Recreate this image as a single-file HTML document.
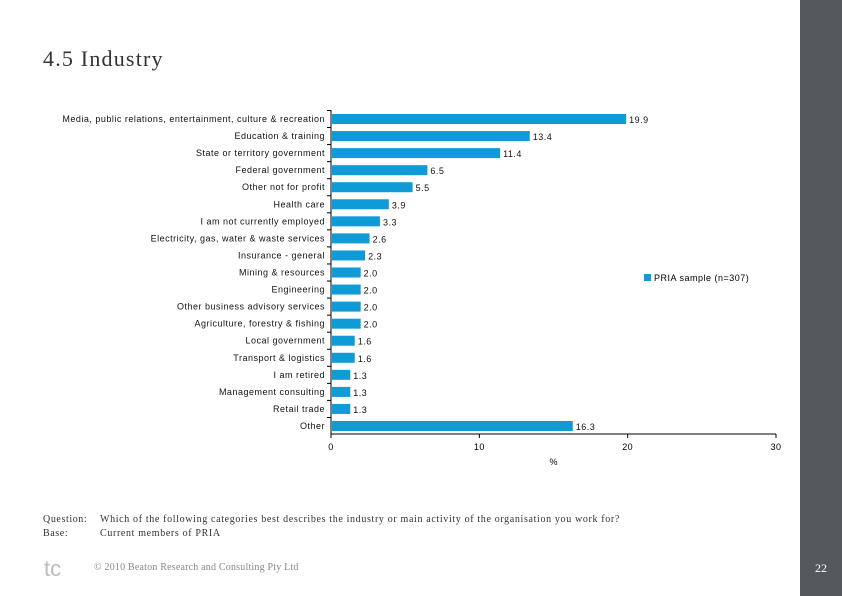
<!DOCTYPE html>
<html><head><meta charset="utf-8"><style>
body{margin:0;width:842px;height:596px;background:#fff;position:relative;overflow:hidden;font-family:"Liberation Sans",sans-serif}
.ser{font-family:"Liberation Serif",serif}
</style></head><body>
<div style="position:absolute;left:800px;top:0;width:42px;height:596px;background:#56595c"></div>
<div class="ser" style="position:absolute;left:800px;width:42px;top:561px;text-align:center;color:#fff;font-size:12px">22</div>
<div class="ser" style="position:absolute;left:43px;top:46px;font-size:22px;letter-spacing:1.2px;color:#333">4.5 Industry</div>
<svg id="chart" width="842" height="596" style="position:absolute;left:0;top:0"></svg>
<div class="ser" style="position:absolute;left:43px;top:514px;font-size:10px;letter-spacing:0.6px;color:#333">Question:</div>
<div class="ser" style="position:absolute;left:100px;top:514px;font-size:10px;letter-spacing:0.65px;color:#333">Which of the following categories best describes the industry or main activity of the organisation you work for?</div>
<div class="ser" style="position:absolute;left:43px;top:528px;font-size:10px;letter-spacing:0.6px;color:#333">Base:</div>
<div class="ser" style="position:absolute;left:100px;top:528px;font-size:10px;letter-spacing:0.65px;color:#333">Current members of PRIA</div>
<div style="position:absolute;left:44px;top:556px;width:26px;height:26px;color:#bbb;font-size:22px;line-height:26px">tc</div>
<div class="ser" style="position:absolute;left:94px;top:562px;font-size:10px;letter-spacing:0.2px;color:#888">© 2010 Beaton Research and Consulting Pty Ltd</div>
<script>
const categories=["Media, public relations, entertainment, culture & recreation","Education & training","State or territory government","Federal government","Other not for profit","Health care","I am not currently employed","Electricity, gas, water & waste services","Insurance - general","Mining & resources","Engineering","Other business advisory services","Agriculture, forestry & fishing","Local government","Transport & logistics","I am retired","Management consulting","Retail trade","Other"];
const values=[19.9,13.4,11.4,6.5,5.5,3.9,3.3,2.6,2.3,2.0,2.0,2.0,2.0,1.6,1.6,1.3,1.3,1.3,16.3];
const ticks=[0,10,20,30];
const svg=document.getElementById('chart');
const NS='http://www.w3.org/2000/svg';
const x0=331,x1=776,xmax=30,yTop=119,step=(426-119)/18,bh=10,axisY=434;
const X=v=>x0+v/xmax*(x1-x0);
const Y=i=>yTop+i*step;
function mk(t,a){const e=document.createElementNS(NS,t);for(const k in a)e.setAttribute(k,a[k]);svg.appendChild(e);return e;}
let ax=mk('line',{x1:x0,y1:110,x2:x0,y2:axisY,stroke:'#000','stroke-width':1});


let bx=mk('line',{x1:x0,y1:axisY,x2:x1,y2:axisY,stroke:'#000','stroke-width':1});


ticks.forEach(t=>{
 mk('line',{x1:X(t),y1:axisY,x2:X(t),y2:axisY+4,stroke:'#000'});
 const tx=mk('text',{x:X(t),y:axisY+16,'text-anchor':'middle','font-size':9,'letter-spacing':0.4,fill:'#000'});
 tx.textContent=t;
 
 
});
const xt=mk('text',{x:X(15),y:axisY+31,'text-anchor':'middle','font-size':9});
xt.textContent='%';


categories.forEach((c,i)=>{
 const y=Y(i);
 mk('line',{x1:x0-4,y1:y-step/2,x2:x0,y2:y-step/2,stroke:'#000'});
 const r=mk('rect',{x:x0+1,y:y-bh/2,width:X(values[i])-x0-1,height:bh,fill:'#0e9bd6'});
 
 
 const l=mk('text',{x:325,y:y+3,'text-anchor':'end','font-size':9,'letter-spacing':0.5,fill:'#111'});
 l.textContent=c;
 
 
 const v=mk('text',{x:X(values[i])+3,y:y+4,'font-size':9,'letter-spacing':0.5,fill:'#111'});
 v.textContent=values[i].toFixed(1);
 
 
});
const lr=mk('rect',{x:644,y:274,width:7,height:7,fill:'#0e9bd6'});


const lt=mk('text',{x:654,y:281,'font-size':9,'letter-spacing':0.5});
lt.textContent='PRIA sample (n=307)';


</script>
</body></html>
